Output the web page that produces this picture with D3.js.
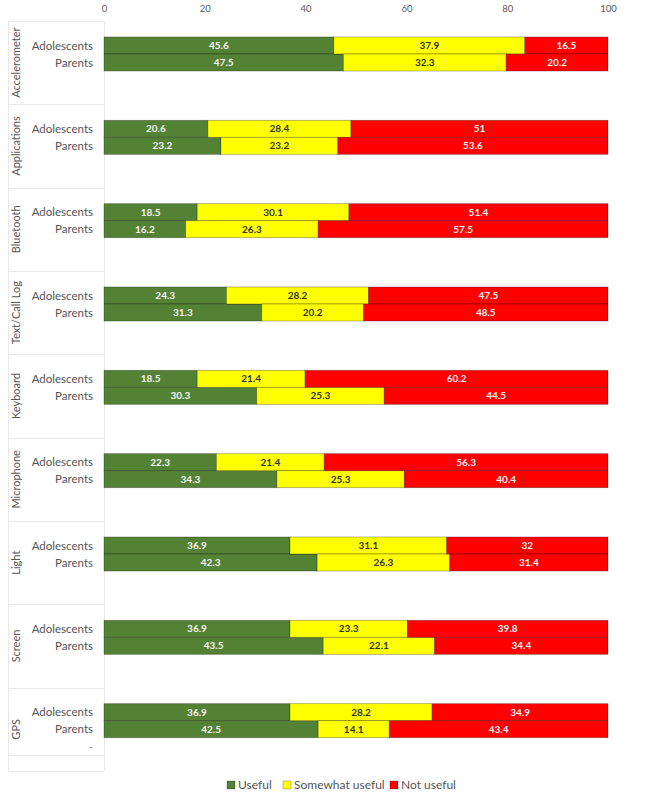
<!DOCTYPE html>
<html><head><meta charset="utf-8">
<script src="https://cdn.jsdelivr.net/npm/d3@7"></script>
<style>
body{margin:0;background:#fff;}
svg{display:block;font-family:Lato,"Open Sans",sans-serif;}
</style></head>
<body>
<svg id="chart" width="666" height="797"></svg>
<script>
const groups = ["Accelerometer","Applications","Bluetooth","Text/Call Log","Keyboard","Microphone","Light","Screen","GPS"];
const respondents = ["Adolescents","Parents"];
const seriesNames = ["Useful","Somewhat useful","Not useful"];
const seriesColors = ["#548235","#FFFF00","#FF0000"];
const useful =         [[45.6,47.5],[20.6,23.2],[18.5,16.2],[24.3,31.3],[18.5,30.3],[22.3,34.3],[36.9,42.3],[36.9,43.5],[36.9,42.5]];
const somewhatUseful = [[37.9,32.3],[28.4,23.2],[30.1,26.3],[28.2,20.2],[21.4,25.3],[21.4,25.3],[31.1,26.3],[23.3,22.1],[28.2,14.1]];
const notUseful =      [[16.5,20.2],[51,53.6],[51.4,57.5],[47.5,48.5],[60.2,44.5],[56.3,40.4],[32,31.4],[39.8,34.4],[34.9,43.4]];
const xTicks = [0,20,40,60,80,100];

const rows = [];
groups.forEach((g,gi)=>respondents.forEach((r,ri)=>{
  rows.push({group:g, resp:r, Useful:useful[gi][ri], "Somewhat useful":somewhatUseful[gi][ri], "Not useful":notUseful[gi][ri]});
}));

const svg = d3.select("#chart");
const x = d3.scaleLinear().domain([0,100]).range([104,608]);
const y0 = d3.scaleBand().domain(groups).range([21,771]);
const y1 = d3.scaleBand().domain(respondents).range([16,50]);
const color = d3.scaleOrdinal().domain(seriesNames).range(seriesColors);

// top axis
const ax = svg.append("g").attr("transform","translate(0,12)")
  .call(d3.axisTop(x).tickValues(xTicks).tickSize(0).tickPadding(0));
ax.select(".domain").remove();
ax.selectAll("text").attr("fill","#595959").style("font-size","9.5px").style("font-family","Lato").attr("dy","0");

// label area grid lines
const grid = svg.append("g").attr("stroke","#e8e8e8").attr("stroke-width",1);
grid.append("line").attr("x1",8.5).attr("x2",8.5).attr("y1",21).attr("y2",771);
grid.append("line").attr("x1",104.5).attr("x2",104.5).attr("y1",21).attr("y2",771);
groups.forEach(g=>{
  grid.append("line").attr("x1",8).attr("x2",104).attr("y1",Math.round(y0(g))+0.5).attr("y2",Math.round(y0(g))+0.5);
});
grid.append("line").attr("x1",8).attr("x2",104).attr("y1",771.5).attr("y2",771.5);
grid.append("line").attr("x1",8).attr("x2",104).attr("y1",Math.round(y0("GPS")+67)+0.5).attr("y2",Math.round(y0("GPS")+67)+0.5);

// group labels (rotated)
svg.append("g").selectAll("text").data(groups).join("text")
  .attr("transform",g=>`translate(19.5,${y0(g)+y0.bandwidth()/2}) rotate(-90)`)
  .attr("text-anchor","middle").attr("fill","#555").style("font-size","11px")
  .text(g=>g);

// respondent labels
svg.append("g").selectAll("text").data(rows).join("text")
  .attr("x",93).attr("y",d=>y0(d.group)+y1(d.resp)+y1.bandwidth()/2)
  .attr("dy","0.35em").attr("text-anchor","end").attr("fill","#555").style("font-size","11.5px")
  .text(d=>d.resp);
svg.append("text").attr("x",93).attr("y",y0("GPS")+59).attr("dy","0.35em")
  .attr("text-anchor","end").attr("fill","#777").style("font-size","10px").text("-");

// stacked bars
const stack = d3.stack().keys(seriesNames)(rows);
const layers = svg.append("g").selectAll("g").data(stack).join("g")
  .attr("fill",d=>color(d.key));
layers.selectAll("rect").data(d=>d).join("rect")
  .attr("x",d=>x(d[0])).attr("width",d=>Math.min(x(d[1]),x(100))-x(d[0]))
  .attr("y",d=>y0(d.data.group)+y1(d.data.resp)).attr("height",y1.bandwidth())
  .attr("stroke","rgba(0,0,0,0.35)").attr("stroke-width",0.8);

// value labels
const lab = svg.append("g").style("font-size","10px").style("font-weight","700").attr("text-anchor","middle");
stack.forEach(layer=>{
  lab.selectAll(null).data(layer).join("text")
    .attr("x",d=>(x(d[0])+Math.min(x(d[1]),x(100)))/2)
    .attr("y",d=>y0(d.data.group)+y1(d.data.resp)+y1.bandwidth()/2)
    .attr("dy","0.35em")
    .attr("fill",layer.key==="Somewhat useful"?"#333":"#f4f4f4")
    .text(d=>d.data[layer.key]);
});

// legend
const legendX = [227,283,390];
const lg = svg.append("g").selectAll("g").data(seriesNames).join("g")
  .attr("transform",(d,i)=>`translate(${legendX[i]},785)`);
lg.append("rect").attr("x",0).attr("y",-4).attr("width",8).attr("height",8)
  .attr("fill",d=>color(d)).attr("stroke","rgba(0,0,0,0.4)").attr("stroke-width",0.6);
lg.append("text").attr("x",11).attr("dy","0.35em").attr("fill","#555").style("font-size","12px").text(d=>d);
</script>
</body></html>
